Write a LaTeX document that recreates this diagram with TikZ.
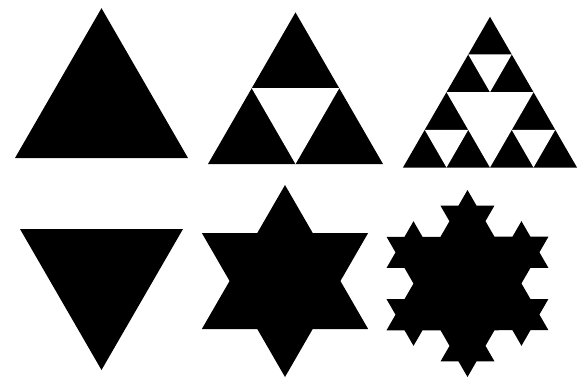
\documentclass[tikz,border=0pt]{standalone}
\usepackage{tikz}
\usetikzlibrary{calc,decorations.fractals}

% buco bianco al centro di un triangolo
\newcommand{\buco}[3]{\fill[white] ($(#1)!0.5!(#2)$) -- ($(#2)!0.5!(#3)$) -- ($(#3)!0.5!(#1)$) -- cycle;}

\begin{document}
\begin{tikzpicture}[x=0.02cm, y=-0.02cm, pieno/.style={fill=black}]
    \useasboundingbox (0,0) rectangle (582,383);

    % triangolo semplice
    \coordinate (a1) at (15,158);
    \coordinate (b1) at (188,158);
    \coordinate (c1) at (101.5,8.2);
    \fill[pieno] (a1) -- (b1) -- (c1) -- cycle;

    % Sierpinski, primo passo
    \coordinate (a2) at (208,164);
    \coordinate (b2) at (383,164);
    \coordinate (c2) at (295.5,12.4);
    \fill[pieno] (a2) -- (b2) -- (c2) -- cycle;
    \buco{a2}{b2}{c2}

    % Sierpinski, secondo passo
    \coordinate (a3) at (403,167.5);
    \coordinate (b3) at (577,167.5);
    \coordinate (c3) at (490,16.8);
    \coordinate (ab3) at ($(a3)!0.5!(b3)$);
    \coordinate (bc3) at ($(b3)!0.5!(c3)$);
    \coordinate (ca3) at ($(c3)!0.5!(a3)$);
    \fill[pieno] (a3) -- (b3) -- (c3) -- cycle;
    \buco{a3}{b3}{c3}
    \buco{a3}{ab3}{ca3}
    \buco{ab3}{b3}{bc3}
    \buco{ca3}{bc3}{c3}

    % triangolo rovesciato
    \coordinate (a4) at (20,229);
    \coordinate (b4) at (183,229);
    \coordinate (c4) at (101.5,370);
    \fill[pieno] (a4) -- (b4) -- (c4) -- cycle;

    % stella a sei punte
    \coordinate (o5) at (285,281);
    \fill[pieno] ($(o5)+(-90:96)$) -- ($(o5)+(30:96)$) -- ($(o5)+(150:96)$) -- cycle;
    \fill[pieno] ($(o5)+(90:96)$) -- ($(o5)+(210:96)$) -- ($(o5)+(330:96)$) -- cycle;

    % fiocco di Koch
    \coordinate (o6) at (467.5,283.5);
    \coordinate (k1) at ($(o6)+(-90:93.5)$);
    \coordinate (k2) at ($(o6)+(30:93.5)$);
    \coordinate (k3) at ($(o6)+(150:93.5)$);
    \fill[pieno, decoration=Koch snowflake]
        decorate{decorate{(k1) -- (k2) -- (k3) -- (k1)}};
\end{tikzpicture}
\end{document}
